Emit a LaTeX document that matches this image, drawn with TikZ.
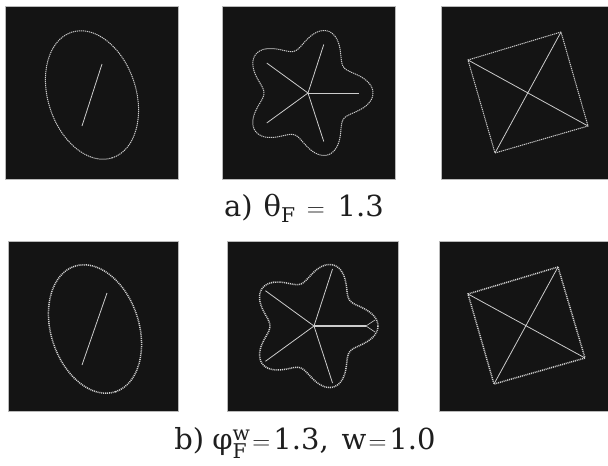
\documentclass[tikz,border=0pt]{standalone}
\usepackage{amsmath}
\usepackage{fontspec}
\setmainfont{DejaVu Serif}
\definecolor{panelbg}{HTML}{141414}
\definecolor{curve}{HTML}{CCCCCC}
\definecolor{txt}{HTML}{1E1E1E}
\begin{document}
\begin{tikzpicture}[x=1pt,y=-1pt,
  panel/.style={fill=panelbg,draw=gray!55,line width=0.6pt},
  outlineA/.style={draw=curve,line width=1pt,dash pattern=on 1.2pt off 0.8pt},
  outlineB/.style={draw=curve!90,line width=1.5pt,dash pattern=on 1pt off 0.9pt},
  spoke/.style={draw=curve,line width=0.8pt},
  lbl/.style={text=txt,font=\fontsize{29}{32}\selectfont,inner sep=0pt}]
\useasboundingbox (0,0) rectangle (608,466);
\fill[white] (0,0) rectangle (608,466);
% ---------- panels ----------
\draw[panel] (5,6) rectangle (178,179);
\draw[panel] (222,6) rectangle (395,179);
\draw[panel] (441,6) rectangle (612,179);
\draw[panel] (8,241) rectangle (178,411);
\draw[panel] (227,241) rectangle (398,411);
\draw[panel] (439,241) rectangle (612,411);
% ---------- ellipses ----------
\coordinate (e1) at (92,95);
\draw[outlineA,rotate around={-72:(e1)}] (e1) ellipse [x radius=66, y radius=44];
\draw[spoke] (82,126) -- (102,64);
\coordinate (e2) at (95,329);
\draw[outlineB,rotate around={-72:(e2)}] (e2) ellipse [x radius=66, y radius=44];
\draw[spoke] (82,365) -- (107,293);
% ---------- stars ----------
\coordinate (s1) at (308,93);
\draw[outlineA,shift={(s1)}] plot[domain=0:360,samples=240,smooth]
  ({(54.5+10.5*cos(5*\x))*cos(\x)},{(54.5+10.5*cos(5*\x))*sin(\x)}) -- cycle;
\foreach \a in {0,72,144,216,288}
  \draw[spoke] (s1) -- ++(\a:51);
\coordinate (s2) at (314,326);
\draw[outlineB,shift={(s2)}] plot[domain=0:360,samples=240,smooth]
  ({(54+10*cos(5*\x))*cos(\x)},{(54+10*cos(5*\x))*sin(\x)}) -- cycle;
\foreach \a in {72,144,216,288}
  \draw[spoke] (s2) -- ++(\a:60);
\draw[spoke,line width=1.2pt] (s2) -- ++(0:52);
\draw[spoke,line width=0.6pt] (366,326) -- (375,320) (366,326) -- (375,332);
% ---------- squares ----------
\coordinate (q1a) at (561,32);
\coordinate (q1b) at (468,60);
\coordinate (q1c) at (495,153);
\coordinate (q1d) at (588,126);
\draw[outlineA] (q1a) -- (q1b) -- (q1c) -- (q1d) -- cycle;
\draw[spoke] (q1a) -- (q1c) (q1b) -- (q1d);
\coordinate (q2a) at (558,267);
\coordinate (q2b) at (468,294);
\coordinate (q2c) at (494,384);
\coordinate (q2d) at (585,358);
\draw[outlineB] (q2a) -- (q2b) -- (q2c) -- (q2d) -- cycle;
\draw[spoke] (q2a) -- (q2c) (q2b) -- (q2d);
% ---------- captions ----------
\node[lbl] (capa) at (304,208) {a)\hspace{11pt}$\text{θ}_{\text{F}}$\hspace{11pt}$=$\hspace{13pt}1.3};
\node[lbl] (capb) at (305,443) {b)\hspace{8pt}$\text{φ}^{\text{w}}_{\text{F}}$\hspace{2pt}$=$\hspace{3pt}1.3,\hspace{13pt}w\hspace{2pt}$=$\hspace{3pt}1.0};
\end{tikzpicture}
\end{document}
